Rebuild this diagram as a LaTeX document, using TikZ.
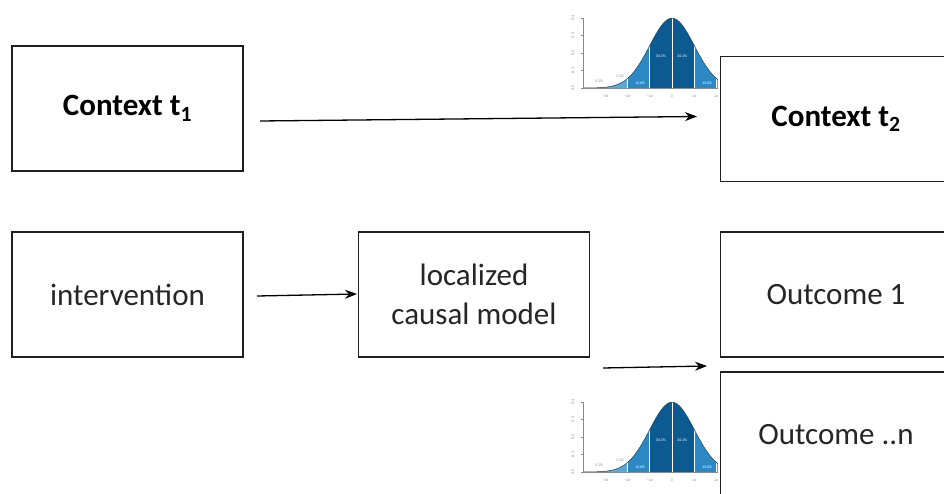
\documentclass[tikz,border=0pt]{standalone}
\usepackage{fontspec}
\setmainfont{Carlito}
\usetikzlibrary{arrows.meta}

\definecolor{bellA}{HTML}{0B5A92}
\definecolor{bellB}{HTML}{2C88C5}
\definecolor{bellC}{HTML}{55A9DC}
\definecolor{axisgray}{HTML}{8A8A8A}

\tikzset{
  box/.style={draw=black!88, line width=1.8pt, fill=white,
    minimum width=231pt, minimum height=125pt, inner sep=0pt,
    font=\fontsize{31}{39}\selectfont, text=black!85, align=center},
  boldbox/.style={box, font=\fontsize{31}{39}\selectfont\bfseries, text=black},
  link/.style={line width=1.3pt, -{Stealth[length=12pt,width=9pt]}},
  tinylabel/.style={font=\fontsize{4}{4.5}\selectfont, inner sep=0pt},
}

% standard normal density, drawn with mean at (#1,#2) in pixel coordinates
\newcommand\gaussbell[2]{%
  \begin{scope}[shift={(#1,#2)}, x=22.3pt, y=175pt]
    \clip (-5,-0.09) rectangle (2.06,0.46);
    \foreach \a/\b/\c in {-4/-3/bellC, -3/-2/bellC, -2/-1/bellB, -1/1/bellA, 1/2/bellB, 2/3/bellC}
      \fill[\c] (\a,0) -- plot[domain=\a:\b, samples=30, smooth]
        (\x,{0.3989*exp(-0.5*(\x)*(\x))}) -- (\b,0) -- cycle;
    \foreach \v in {-2,-1,0,1,2}
      \draw[white, line width=0.6pt] (\v,0) -- (\v,{0.3989*exp(-0.5*(\v)*(\v))});
    \draw[bellA!80!black, line width=0.5pt] plot[domain=-4:3, samples=80, smooth]
      (\x,{0.3989*exp(-0.5*(\x)*(\x))});
    % axes
    \draw[axisgray, line width=0.5pt] (-4,0.4) -- (-4,0) -- (3,0);
    \foreach \v/\t in {0/0.0, 0.1/0.1, 0.2/0.2, 0.3/0.3, 0.4/0.4} {
      \draw[axisgray, line width=0.4pt] (-4.08,\v) -- (-4,\v);
      \node[tinylabel, text=axisgray, rotate=90] at (-4.45,\v) {\t};
    }
    \foreach \v/\t in {-3/−3σ, -2/−2σ, -1/−1σ, 0/0, 1/1σ, 2/2σ}
      \node[tinylabel, text=axisgray] at (\v,-0.046) {\t};
    % share of each band
    \node[tinylabel, text=axisgray] at (-3.27,0.04) {0.1\%};
    \node[tinylabel, text=axisgray] at (-2.33,0.069) {2.1\%};
    \node[tinylabel, text=white] at (-1.43,0.03) {13.6\%};
    \node[tinylabel, text=white] at (1.57,0.03) {13.6\%};
    \node[tinylabel, text=white] at (-0.5,0.18) {34.1\%};
    \node[tinylabel, text=white] at (0.45,0.18) {34.1\%};
  \end{scope}}

\begin{document}
\begin{tikzpicture}[x=1pt, y=-1pt]
  \useasboundingbox (0,0) rectangle (944,494);
  \clip (0,0) rectangle (944,494);

  % distributions over the later context and the outcomes
  \gaussbell{672}{88}
  \gaussbell{672}{472}

  % boxes
  \node[boldbox] (ct1) at (127.5,108.5) {Context t\textsubscript{1}};
  \node[boldbox] (ct2) at (836,119) {Context t\textsubscript{2}};
  \node[box] (int) at (127.5,294.5) {intervention};
  \node[box] (lcm) at (474,294.5) {localized\\causal model};
  \node[box] (out1) at (836,294.5) {Outcome 1};
  \node[box] (outn) at (836,434.5) {Outcome ..n};

  % connector ends
  \coordinate (ctA) at (260,121);
  \coordinate (ctB) at (697,116.5);
  \coordinate (intA) at (257,296);
  \coordinate (intB) at (357,294);
  \coordinate (lcmA) at (603,368);
  \coordinate (lcmB) at (707,366);

  \draw[link] (ctA) -- (ctB);
  \draw[link] (intA) -- (intB);
  \draw[link] (lcmA) -- (lcmB);
\end{tikzpicture}
\end{document}
